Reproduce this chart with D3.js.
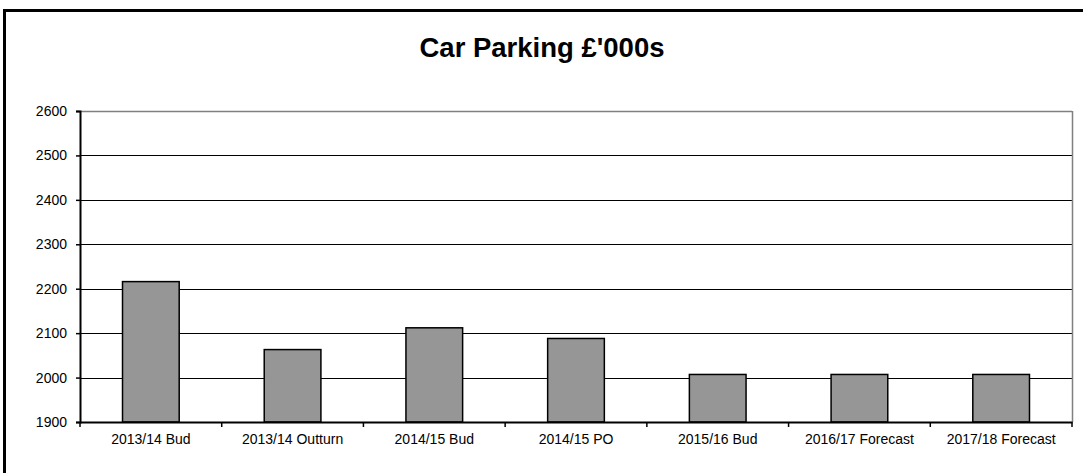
<!DOCTYPE html>
<html>
<head>
<meta charset="utf-8">
<script src="https://cdnjs.cloudflare.com/ajax/libs/d3/7.8.5/d3.min.js"></script>
<style>
html, body { margin: 0; padding: 0; background: #fff; overflow: hidden; }
svg { display: block; }
</style>
</head>
<body>
<svg id="chart" width="1083" height="473"></svg>
<script>
const title = "Car Parking £'000s";
const categories = ["2013/14 Bud", "2013/14 Outturn", "2014/15 Bud", "2014/15 PO", "2015/16 Bud", "2016/17 Forecast", "2017/18 Forecast"];
const values = [2216, 2063, 2112, 2088, 2007, 2007, 2007];
const yTicks = [1900, 2000, 2100, 2200, 2300, 2400, 2500, 2600];

(function () {
const svg = d3.select("#chart");
const font = "'Liberation Sans', Arial, sans-serif";

// outer border
svg.append("rect").attr("x", 4.5).attr("y", 10.5).attr("width", 1200).attr("height", 1000)
  .attr("fill", "none").attr("stroke", "#000").attr("stroke-width", 3);

svg.append("text").attr("x", 542).attr("y", 57).attr("text-anchor", "middle")
  .attr("font-family", font).attr("font-weight", "bold").attr("font-size", 27.5).text(title);

const pLeft = 80, pRight = 1072, pTop = 111, pBottom = 422;
const x = d3.scaleBand().domain(categories).range([pLeft, pRight]).paddingInner(0.6).paddingOuter(0.3);
const y = d3.scaleLinear().domain([1900, 2600]).range([pBottom, pTop]);

// gridlines
svg.append("g").selectAll("line").data(yTicks.filter(d => d > 1900 && d < 2600)).join("line")
  .attr("x1", pLeft).attr("x2", pRight).attr("y1", d => Math.round(y(d)) + 0.5).attr("y2", d => Math.round(y(d)) + 0.5)
  .attr("stroke", "#000").attr("stroke-width", 1);

// plot area top & right border (grey)
svg.append("line").attr("x1", pLeft).attr("x2", pRight).attr("y1", pTop + 0.5).attr("y2", pTop + 0.5)
  .attr("stroke", "#808080").attr("stroke-width", 1.5);
svg.append("line").attr("x1", pRight + 0.5).attr("x2", pRight + 0.5).attr("y1", pTop).attr("y2", pBottom)
  .attr("stroke", "#808080").attr("stroke-width", 1.5);

// bars
svg.append("g").selectAll("rect").data(values).join("rect")
  .attr("x", (d, i) => x(categories[i]))
  .attr("y", d => y(d))
  .attr("width", x.bandwidth())
  .attr("height", d => pBottom - y(d))
  .attr("fill", "#969696").attr("stroke", "#000").attr("stroke-width", 1.5);

// y axis
const yAxis = d3.axisLeft(y).tickValues(yTicks).tickSize(4).tickPadding(9).tickFormat(d3.format("d"));
const gy = svg.append("g").attr("transform", `translate(${pLeft},0)`).call(yAxis);
gy.select(".domain").attr("stroke", "#000").attr("stroke-width", 2);
gy.selectAll(".tick line").attr("stroke", "#000").attr("stroke-width", 1.5);
gy.selectAll(".tick text").attr("font-family", font).attr("font-size", 14).attr("fill", "#000");

// x axis
const xAxis = d3.axisBottom(x).tickSize(0).tickPadding(12);
const gx = svg.append("g").attr("transform", `translate(0,${pBottom})`).call(xAxis);
gx.select(".domain").attr("stroke", "#000").attr("stroke-width", 2);
gx.selectAll(".tick text").attr("font-family", font).attr("font-size", 14).attr("fill", "#000");

// category boundary ticks
const bounds = d3.range(categories.length + 1).map(i => pLeft + i * x.step());
svg.append("g").selectAll("line").data(bounds).join("line")
  .attr("x1", d => d).attr("x2", d => d).attr("y1", pBottom).attr("y2", pBottom + 5)
  .attr("stroke", "#000").attr("stroke-width", 1.5);
})();
</script>
</body>
</html>
